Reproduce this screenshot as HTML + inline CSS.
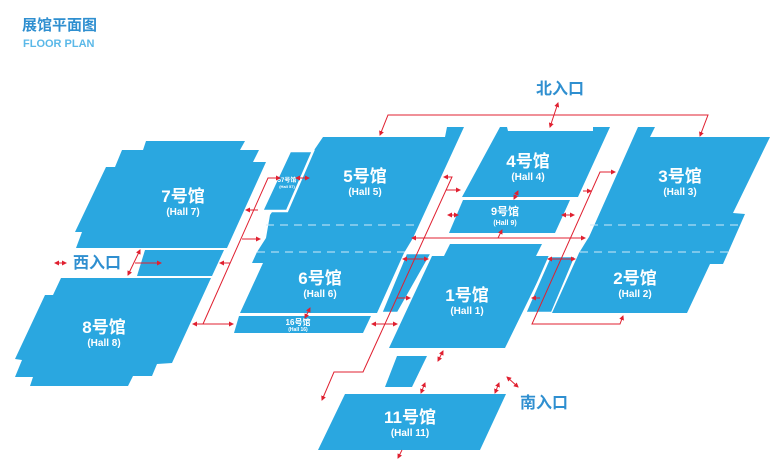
<!DOCTYPE html>
<html><head><meta charset="utf-8"><style>
html,body{margin:0;padding:0;background:#fff;}
svg{display:block;font-family:"Liberation Sans","Noto Sans CJK SC",sans-serif;}
.h{fill:#2aa7e0;}
.s{fill:#2aa7e0;stroke:#fff;stroke-width:2.5;}
.t{fill:#fff;font-weight:bold;text-anchor:middle;}
.r{stroke:#e02030;stroke-width:1;fill:none;}
.e{fill:#2f8fd0;font-weight:bold;font-size:16px;}
</style></head><body>
<svg width="770" height="460" viewBox="0 0 770 460">
<defs><marker id="a" markerWidth="5" markerHeight="5" refX="4" refY="2.5" orient="auto-start-reverse" markerUnits="userSpaceOnUse"><path d="M0,0L5,2.5L0,5z" fill="#e02030"/></marker></defs>
<text x="22" y="30" fill="#2f8fd0" font-weight="bold" font-size="15">展馆平面图</text>
<text x="23" y="47" fill="#5ab8e8" font-size="11" font-weight="bold">FLOOR PLAN</text>
<text x="536" y="94" class="e">北入口</text>
<text x="73" y="268" class="e">西入口</text>
<text x="520" y="408" class="e">南入口</text>

<polygon class="h" points="146,141 245,141 240,150 259,150 253,162 266,162 227,248 76,248 82,232 75,232 106,167 115,167 122,150 143,150"/>
<polygon class="h" points="145,250 224,250 212,276 137,276"/>
<polygon class="h" points="61,278 211,278 172,363 157,364 152,376 133,376 128,386 30,386 33,377 15,377 22,360 15,359 45,295 53,295"/>
<polygon class="h" points="323,137 445,137 447,127 464,127 413,238 404,253 377,313 240,313 263,263 252,263 257,252 266,238 270,215"/>
<line x1="266" y1="225" x2="420" y2="225" stroke="#cfe9f8" stroke-dasharray="8,6"/>
<line x1="257" y1="252" x2="410" y2="252" stroke="#cfe9f8" stroke-dasharray="8,6"/>
<polygon class="s" points="290,151 313,151 287,211 262,211"/>
<polygon class="h" points="239,316 371,316 363,333 234,333"/>
<polygon class="s" points="406,253 432,253 398,313 381,313"/>
<polygon class="h" points="500,127 507,127 508,131 593,131 593,127 610,127 578,197 462,197"/>
<polygon class="h" points="463,200 570,200 555,233 449,233"/>
<polygon class="h" points="450,244 542,244 536,256 550,256 505,348 389,348 432,256 444,256"/>
<polygon class="s" points="550,256 576,256 552,313 525,313"/>
<polygon class="h" points="638,127 655,127 650,137 770,137 733,213 745,214 723,264 710,264 687,313 552,313 579,253 587,240 589,237"/>
<line x1="590" y1="225" x2="742" y2="225" stroke="#cfe9f8" stroke-dasharray="8,6"/>
<line x1="580" y1="252" x2="728" y2="252" stroke="#cfe9f8" stroke-dasharray="8,6"/>
<polygon class="h" points="397,356 427,356 412,387 385,387"/>
<polygon class="h" points="345,394 506,394 480,450 318,450"/>

<text class="t" x="183" y="202" font-size="17">7号馆</text><text class="t" x="183" y="215" font-size="10">(Hall 7)</text>
<text class="t" x="365" y="182" font-size="17">5号馆</text><text class="t" x="365" y="195" font-size="10">(Hall 5)</text>
<text class="t" x="528" y="167" font-size="17">4号馆</text><text class="t" x="528" y="180" font-size="10">(Hall 4)</text>
<text class="t" x="680" y="182" font-size="17">3号馆</text><text class="t" x="680" y="195" font-size="10">(Hall 3)</text>
<text class="t" x="505" y="215" font-size="11">9号馆</text><text class="t" x="505" y="225" font-size="7">(Hall 9)</text>
<text class="t" x="320" y="284" font-size="17">6号馆</text><text class="t" x="320" y="297" font-size="10">(Hall 6)</text>
<text class="t" x="467" y="301" font-size="17">1号馆</text><text class="t" x="467" y="314" font-size="10">(Hall 1)</text>
<text class="t" x="635" y="284" font-size="17">2号馆</text><text class="t" x="635" y="297" font-size="10">(Hall 2)</text>
<text class="t" x="104" y="333" font-size="17">8号馆</text><text class="t" x="104" y="346" font-size="10">(Hall 8)</text>
<text class="t" x="298" y="325" font-size="8">16号馆</text><text class="t" x="298" y="331" font-size="5">(Hall 16)</text>
<text class="t" x="287" y="182" font-size="6">57号馆</text><text class="t" x="287" y="188" font-size="4">(Hall 57)</text>
<text class="t" x="410" y="423" font-size="17">11号馆</text><text class="t" x="410" y="436" font-size="10">(Hall 11)</text>

<g class="r">
<polyline points="380,135 388,115 708,115 700,136" marker-start="url(#a)" marker-end="url(#a)"/>
<line x1="550" y1="127" x2="558" y2="103" marker-start="url(#a)" marker-end="url(#a)"/>
<polyline points="203,324 268,178 280,178" marker-end="url(#a)"/>
<line x1="193" y1="324" x2="233" y2="324" marker-start="url(#a)" marker-end="url(#a)"/>
<line x1="55" y1="263" x2="66" y2="263" marker-start="url(#a)" marker-end="url(#a)"/>
<line x1="128" y1="275" x2="140" y2="250" marker-start="url(#a)" marker-end="url(#a)"/>
<line x1="135" y1="263" x2="161" y2="263" marker-end="url(#a)"/>
<line x1="242" y1="239" x2="260" y2="239" marker-end="url(#a)"/>
<line x1="258" y1="210" x2="246" y2="210" marker-end="url(#a)"/>
<line x1="230" y1="263" x2="220" y2="263" marker-end="url(#a)"/>
<line x1="296" y1="178" x2="309" y2="178" marker-start="url(#a)" marker-end="url(#a)"/>
<line x1="305" y1="318" x2="310" y2="308" marker-start="url(#a)" marker-end="url(#a)"/>
<line x1="372" y1="324" x2="397" y2="324" marker-start="url(#a)" marker-end="url(#a)"/>
<polyline points="322,400 334,372 363,372 452,177 444,177" marker-start="url(#a)" marker-end="url(#a)"/>
<line x1="446" y1="190" x2="460" y2="190" marker-end="url(#a)"/>
<line x1="448" y1="215" x2="458" y2="215" marker-start="url(#a)" marker-end="url(#a)"/>
<line x1="562" y1="215" x2="574" y2="215" marker-start="url(#a)" marker-end="url(#a)"/>
<line x1="412" y1="238" x2="585" y2="238" marker-start="url(#a)" marker-end="url(#a)"/>
<line x1="498" y1="238" x2="502" y2="230" marker-end="url(#a)"/>
<line x1="514" y1="199" x2="518" y2="191" marker-start="url(#a)" marker-end="url(#a)"/>
<line x1="403" y1="259" x2="428" y2="259" marker-start="url(#a)" marker-end="url(#a)"/>
<line x1="397" y1="298" x2="410" y2="298" marker-end="url(#a)"/>
<line x1="548" y1="259" x2="575" y2="259" marker-start="url(#a)" marker-end="url(#a)"/>
<line x1="540" y1="298" x2="532" y2="298" marker-end="url(#a)"/>
<line x1="583" y1="191" x2="591" y2="191" marker-end="url(#a)"/>
<polyline points="615,172 600,172 532,324 620,324 623,316" marker-start="url(#a)" marker-end="url(#a)"/>
<line x1="443" y1="351" x2="438" y2="361" marker-start="url(#a)" marker-end="url(#a)"/>
<line x1="425" y1="383" x2="421" y2="393" marker-start="url(#a)" marker-end="url(#a)"/>
<line x1="499" y1="383" x2="495" y2="393" marker-start="url(#a)" marker-end="url(#a)"/>
<line x1="507" y1="377" x2="518" y2="387" marker-start="url(#a)" marker-end="url(#a)"/>
<line x1="402" y1="450" x2="398" y2="458" marker-end="url(#a)"/>
</g>
</svg>
</body></html>
